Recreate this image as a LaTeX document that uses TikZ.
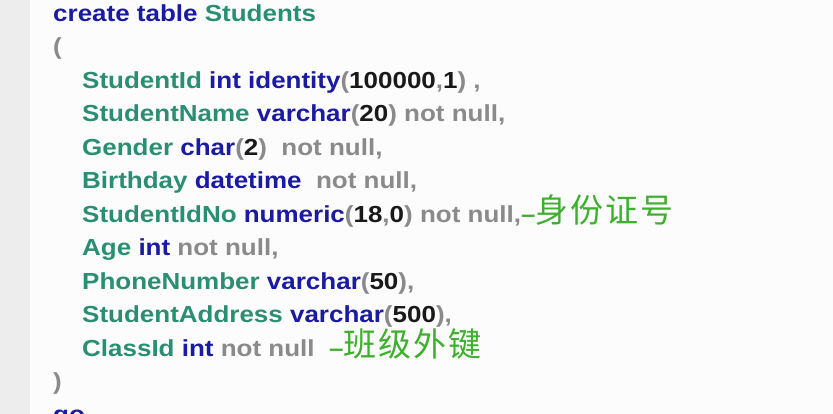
\documentclass[tikz,border=0pt]{standalone}
\usepackage{fontspec}
\newfontfamily\codefont{Liberation Sans}[FakeStretch=1.12]
\newfontfamily\cjkfont{Noto Sans CJK SC}[LetterSpace=6]
\definecolor{kwblue}{HTML}{1A1AA2}
\definecolor{fldteal}{HTML}{2A8F72}
\definecolor{pungray}{HTML}{8A8A8A}
\definecolor{cmtgreen}{HTML}{3EB02E}
\definecolor{stripgray}{HTML}{EDEDED}
\definecolor{pagewhite}{HTML}{FCFCFC}
\newcommand{\kw}[1]{\textcolor{kwblue}{#1}}
\newcommand{\fld}[1]{\textcolor{fldteal}{#1}}
\newcommand{\nmb}[1]{\textcolor{black!90}{#1}}
\newcommand{\pun}[1]{\textcolor{pungray}{#1}}
\newcommand{\cmt}[1]{\textcolor{cmtgreen}{\textendash{\cjkfont\mdseries\fontsize{33}{33}\selectfont #1}}}
\tikzset{codeline/.style={anchor=base west, inner sep=0pt, font=\codefont\bfseries\fontsize{23.2}{28}\selectfont}}
\begin{document}
\begin{tikzpicture}[x=1pt,y=-1pt]

\def\pitch{33.45}

\useasboundingbox (0,0) rectangle (833,414);
\fill[pagewhite] (0,0) rectangle (833,414);
\fill[stripgray] (0,0) rectangle (30,414);
\clip (0,0) rectangle (833,414);

\foreach \i\x\txt in{
	0/53/{\kw{create table} \fld{Students}}
	,1/53/{\pun{(}}
	,2/82/{\fld{StudentId} \kw{int identity}\pun{(}\nmb{100000}\pun{,}\nmb{1}\pun{) ,}}
	,3/82/{\fld{StudentName} \kw{varchar}\pun{(}\nmb{20}\pun{) not null,}}
	,4/82/{\fld{Gender} \kw{char}\pun{(}\nmb{2}\pun{)}\ \ \pun{not null,}}
	,5/82/{\fld{Birthday} \kw{datetime}\ \ \pun{not null,}}
	,6/82/{\fld{StudentIdNo} \kw{numeric}\pun{(}\nmb{18}\pun{,}\nmb{0}\pun{) not null,}\cmt{身份证号}}
	,7/82/{\fld{Age} \kw{int} \pun{not null,}}
	,8/82/{\fld{PhoneNumber} \kw{varchar}\pun{(}\nmb{50}\pun{),}}
	,9/82/{\fld{StudentAddress} \kw{varchar}\pun{(}\nmb{500}\pun{),}}
	,10/82/{\fld{ClassId} \kw{int} \pun{not null}\ \ \cmt{班级外键}}
	,11/53/{\pun{)}}
	,12/53/{\kw{go}}
}{
	\node[codeline] (line\i) at(\x,21.5+\i*\pitch) {\txt};
}

\end{tikzpicture}
\end{document}
